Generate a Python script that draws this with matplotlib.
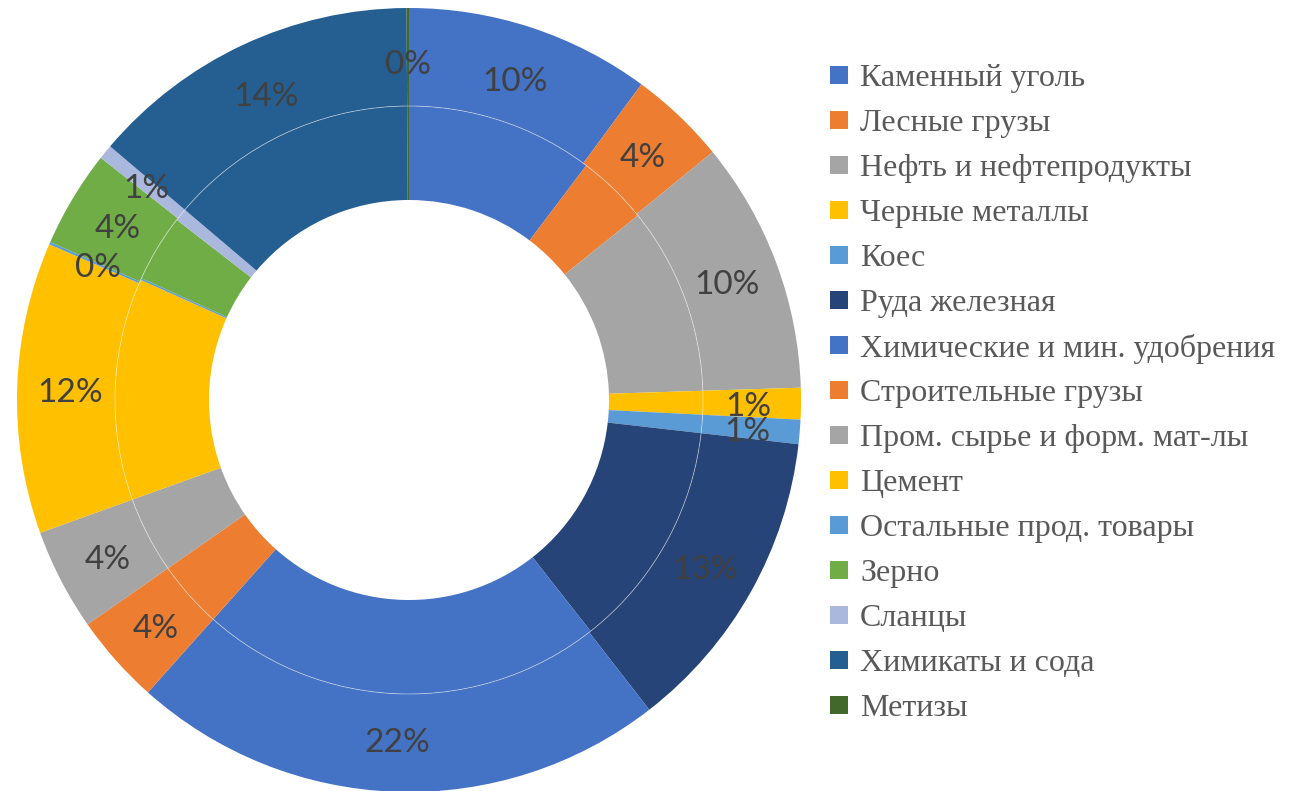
import matplotlib
matplotlib.use("Agg")
import matplotlib.pyplot as plt
from matplotlib.patches import Circle, Rectangle
import numpy as np

plt.rcParams['font.serif'] = ['Liberation Serif', 'DejaVu Serif']

categories = ["Каменный уголь", "Лесные грузы", "Нефть и нефтепродукты",
              "Черные металлы", "Коес", "Руда железная",
              "Химические и мин. удобрения", "Строительные грузы",
              "Пром. сырье и форм. мат-лы", "Цемент", "Остальные прод. товары",
              "Зерно", "Сланцы", "Химикаты и сода", "Метизы"]
outer_values = [10.1, 4.0, 10.4, 1.3, 1.0, 12.7, 22.1, 3.7, 4.2, 12.0, 0.1,
                4.0, 0.6, 13.7, 0.1]
inner_values = [10.3, 3.9, 10.3, 1.3, 1.0, 12.6, 22.2, 3.7, 4.2, 12.2, 0.1,
                3.7, 0.7, 13.7, 0.1]
colors = ["#4472C4", "#ED7D31", "#A5A5A5", "#FFC000", "#5B9BD5", "#264478",
          "#4472C4", "#ED7D31", "#A5A5A5", "#FFC000", "#5B9BD5", "#70AD47",
          "#A9B8DC", "#255E91", "#43682B"]

W, H = 1304, 791
fig = plt.figure(figsize=(W / 100, H / 100), dpi=100)

cx, cy, R = 409, 400, 392
ax = fig.add_axes([(cx - R) / W, (H - cy - R) / H, 2 * R / W, 2 * R / H])

r_out, r_mid, r_in = 1.0, 294 / 392, 200 / 392

ax.pie(inner_values, radius=r_mid, colors=colors, startangle=90,
       counterclock=False, wedgeprops=dict(width=r_mid - r_in, linewidth=0))
wedges, _ = ax.pie(outer_values, radius=r_out, colors=colors, startangle=90,
                   counterclock=False,
                   wedgeprops=dict(width=r_out - r_mid, linewidth=0))
ax.add_patch(Circle((0, 0), r_mid, fill=False, edgecolor="white",
                    linewidth=0.6, alpha=0.5))
ax.set_xlim(-1, 1)
ax.set_ylim(-1, 1)
ax.set_aspect("equal")
ax.axis("off")

total = sum(outer_values)
r_lab = (r_out + r_mid) / 2 - 0.01
for w, v in zip(wedges, outer_values):
    ang = np.deg2rad((w.theta1 + w.theta2) / 2)
    ax.text(r_lab * np.cos(ang), r_lab * np.sin(ang) - 0.01,
            f"{round(v / total * 100)}%", ha="center", va="center",
            fontsize=24, color="#404040", family="Lato")

# legend
x_sq, y0, dy = 830, 75, 45.0
for i, (c, lab) in enumerate(zip(colors, categories)):
    y = y0 + i * dy
    fig.patches.append(Rectangle((x_sq / W, 1 - (y + 9) / H), 18 / W, 18 / H,
                                 transform=fig.transFigure, facecolor=c,
                                 edgecolor="none"))
    fig.text(860 / W, 1 - y / H, lab, ha="left", va="center_baseline",
             fontsize=23, color="#595959", family="serif")

fig.savefig("out.png", dpi=100)
